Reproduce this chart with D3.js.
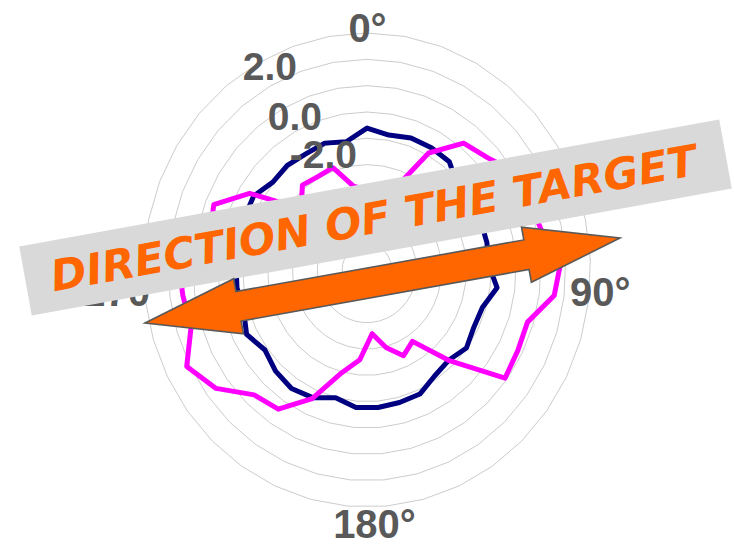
<!DOCTYPE html>
<html>
<head>
<meta charset="utf-8">
<script src="https://cdn.jsdelivr.net/npm/d3@7/dist/d3.min.js"></script>
<style>
  html, body { margin: 0; padding: 0; background: #ffffff; }
  svg { display: block; }
</style>
</head>
<body>
<svg id="chart" width="734" height="547"></svg>
<script>
// ---------- DATA ----------
const categories = ["0°","10°","20°","30°","40°","50°","60°","70°","80°","90°",
  "100°","110°","120°","130°","140°","150°","160°","170°","180°","190°",
  "200°","210°","220°","230°","240°","250°","260°","270°","280°","290°",
  "300°","310°","320°","330°","340°","350°","360°"];
const shownCategoryLabels = ["0°","90°","180°","270°"];

const seriesNavy = [-0.61,-0.80,-0.68,-0.68,-0.72,-1.14,-1.14,-1.06,-1.06,-1.10,
  -0.72,-1.14,-1.18,-1.02,-1.25,-1.14,-0.83,-0.80,-0.76,-0.76,
  -0.99,-0.68,-0.57,-0.68,-0.89,-0.57,-0.80,-0.72,-0.72,-0.68,
  -0.68,-0.64,-0.95,-0.89,-0.95,-0.89,-1.06];

const seriesMagenta = [-2.96,-2.89,-2.77,-0.91,0.19,0.46,1.06,1.06,1.18,1.82,
  1.60,0.76,0.80,0.91,-1.25,-2.73,-2.43,-2.96,-3.57,-2.58,
  -1.97,-0.64,0.38,0.57,1.56,2.13,1.41,1.48,1.60,0.46,
  0.65,-0.45,-2.47,-1.86,-1.94,-1.88,-2.77];

const valueDomain = [-6, 3];
const gridValues = [-5,-4,-3,-2,-1,0,1,2,3];
const tickValues = [2, 0, -2];
const tickLabels = ["2.0", "0.0", "-2.0"];
const bannerText = "DIRECTION OF THE TARGET";

// ---------- LAYOUT ----------
const cx = 367, cy = 270, R = 237, kx = 0.943;
const svg = d3.select("#chart");
const N = categories.length;
const angle = d3.scaleLinear().domain([0, N]).range([0, 2 * Math.PI]);
const rScale = d3.scaleLinear().domain(valueDomain).range([0, R]);
const px = (i, v) => cx + kx * rScale(v) * Math.sin(angle(i));
const py = (i, v) => cy - rScale(v) * Math.cos(angle(i));

const radarLine = d3.line()
  .x(d => px(d.i, d.v))
  .y(d => py(d.i, d.v))
  .curve(d3.curveLinearClosed);

// grid rings
const g = svg.append("g");
g.selectAll("path.ring").data(gridValues).enter().append("path")
  .attr("class", "ring")
  .attr("d", gv => radarLine(categories.map((c, i) => ({ i, v: gv }))))
  .attr("fill", "none")
  .attr("stroke", "#cccccc")
  .attr("stroke-width", 1);

// series
const series = [
  { values: seriesNavy, color: "#000080" },
  { values: seriesMagenta, color: "#ff00ff" }
];
g.selectAll("path.series").data(series).enter().append("path")
  .attr("class", "series")
  .attr("d", s => radarLine(s.values.map((v, i) => ({ i, v }))))
  .attr("fill", "none")
  .attr("stroke", s => s.color)
  .attr("stroke-width", 5)
  .attr("stroke-linejoin", "round");

// category labels (only the four shown)
const catLabelLayout = {
  "0°":   { dx: 0.5,  dy: -228, anchor: "middle" },
  "90°":  { dx: 203,  dy: 36,   anchor: "start" },
  "180°": { dx: 7.5,  dy: 268,  anchor: "middle" },
  "270°": { dx: -201, dy: 36,   anchor: "end" }
};
svg.append("g").selectAll("text").data(shownCategoryLabels).enter().append("text")
  .attr("x", d => cx + catLabelLayout[d].dx)
  .attr("y", d => cy + catLabelLayout[d].dy)
  .attr("text-anchor", d => catLabelLayout[d].anchor)
  .attr("font-family", "'Liberation Sans', Arial, sans-serif")
  .attr("font-weight", "bold")
  .attr("font-size", 40)
  .attr("fill", "#595959")
  .text(d => d);

// value axis labels
const tickLayout = [ { dx: -70, dy: 21 }, { dx: -45, dy: 18 }, { dx: -10, dy: 3 } ];
svg.append("g").selectAll("text").data(tickValues).enter().append("text")
  .attr("x", (d, i) => cx + tickLayout[i].dx)
  .attr("y", (d, i) => cy - rScale(d) + tickLayout[i].dy)
  .attr("text-anchor", "end")
  .attr("font-family", "'Liberation Sans', Arial, sans-serif")
  .attr("font-weight", "bold")
  .attr("font-size", 39)
  .attr("fill", "#595959")
  .text((d, i) => tickLabels[i]);

// banner
const banner = svg.append("g")
  .attr("transform", "translate(375.5,217.5) rotate(-10.28)");
banner.append("rect")
  .attr("x", -355.7).attr("y", -35.1)
  .attr("width", 711.4).attr("height", 70.2)
  .attr("fill", "#d9d9d9");
banner.append("text")
  .attr("x", -2).attr("y", 15.5)
  .attr("text-anchor", "middle")
  .attr("font-family", "'DejaVu Sans', Verdana, sans-serif")
  .attr("font-weight", "bold")
  .attr("font-style", "italic")
  .attr("font-size", 43)
  .attr("fill", "#ff6600")
  .text(bannerText);

// double arrow
const L = 482.5, hl = 95, hw = 28, sw = 15;
const arrowPts = [
  [-L/2, 0], [-L/2 + hl, -hw], [-L/2 + hl, -sw], [L/2 - hl, -sw], [L/2 - hl, -hw],
  [L/2, 0], [L/2 - hl, hw], [L/2 - hl, sw], [-L/2 + hl, sw], [-L/2 + hl, hw]
];
svg.append("g")
  .attr("transform", "translate(382.5,280.5) rotate(-10.15)")
  .append("path")
  .attr("d", d3.line()(arrowPts) + "Z")
  .attr("fill", "#ff6600")
  .attr("stroke", "#595959")
  .attr("stroke-width", 1.6)
  .attr("stroke-linejoin", "miter");
</script>
</body>
</html>
